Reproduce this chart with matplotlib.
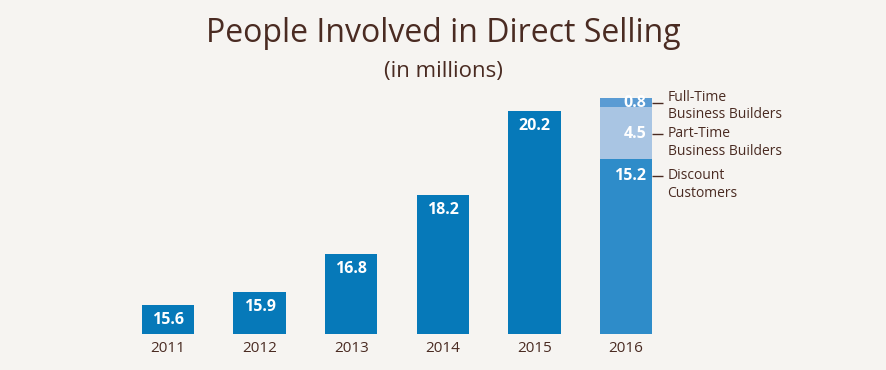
import matplotlib.pyplot as plt
from matplotlib.transforms import offset_copy
import numpy as np

# data
years = ["2011", "2012", "2013", "2014", "2015", "2016"]
totals = [15.6, 15.9, 16.8, 18.2, 20.2, 20.5]
seg_names = ["Discount\nCustomers", "Part-Time\nBusiness Builders", "Full-Time\nBusiness Builders"]
seg_values = [15.2, 4.5, 0.8]
seg_colors = ["#2e8cc9", "#a9c5e3", "#5a9bd3"]

base = 14.9  # bars start above zero, as in the original
bg = "#f6f4f1"
brown = "#4a2b22"
blue = "#0679b9"

plt.rcParams["font.family"] = ["Open Sans", "DejaVu Sans"]

fig = plt.figure(figsize=(8.86, 3.70), dpi=100, facecolor=bg)
ax = fig.add_axes([122 / 886, 36 / 370, 550 / 886, 257 / 370])
ax.set_facecolor(bg)
ax.set_xlim(-0.5, 5.5)
ax.set_ylim(base, 21.0)

x = np.arange(len(years))
w = 0.57

# single bars 2011-2015
for i in range(5):
    ax.bar(x[i], totals[i] - base, bottom=base, width=w, color=blue)
    ax.annotate(f"{totals[i]:.1f}", (x[i], totals[i]), xytext=(0, -11),
                textcoords="offset points", ha="center", va="center",
                color="white", fontsize=11.5, fontweight="bold")

# 2016 stacked bar, segments split in proportion to the visible height
h = totals[5] - base
fracs = np.array(seg_values) / sum(seg_values)
bottoms = base + np.concatenate([[0], np.cumsum(fracs)[:-1]]) * h
offs = [-12, -19, None]
for val, fr, b, col, name, off in zip(seg_values, fracs, bottoms, seg_colors, seg_names, offs):
    ax.bar(x[5], fr * h, bottom=b, width=w, color=col)
    top = b + fr * h
    if off is None:
        yy, dy = b + fr * h / 2, 0
    else:
        yy, dy = top, off
    ax.annotate(f"{val:.1f}", (x[5] + 0.22, yy), xytext=(0, dy),
                textcoords="offset points", ha="right", va="center",
                color="white", fontsize=11.5, fontweight="bold")
    # leader line
    tr = offset_copy(ax.transData, fig=fig, x=0, y=dy, units="points")
    ax.plot([x[5] + w / 2, x[5] + w / 2 + 0.12], [yy, yy], color=brown, lw=1,
            transform=tr, clip_on=False, solid_capstyle="butt")
    first, second = name.split("\n")
    ty = dy + (4 if off is None else 0)
    ax.annotate(first, (x[5] + w / 2, yy), xytext=(11, ty), textcoords="offset points",
                ha="left", va="center", color=brown, fontsize=10, annotation_clip=False)
    ax.annotate(second, (x[5] + w / 2, yy), xytext=(11, ty - 12.5), textcoords="offset points",
                ha="left", va="center", color=brown, fontsize=10, annotation_clip=False)

ax.set_xticks(x)
ax.set_xticklabels(years, fontsize=11, color=brown)
ax.tick_params(axis="x", length=0, pad=5)
ax.set_yticks([])
for s in ax.spines.values():
    s.set_visible(False)

fig.text(0.5, 1 - 33 / 370, "People Involved in Direct Selling", ha="center", va="center",
         fontsize=23, color=brown)
fig.text(0.5, 1 - 72 / 370, "(in millions)", ha="center", va="center",
         fontsize=16, color=brown)

fig.savefig("out.png", dpi=100, facecolor=bg)
